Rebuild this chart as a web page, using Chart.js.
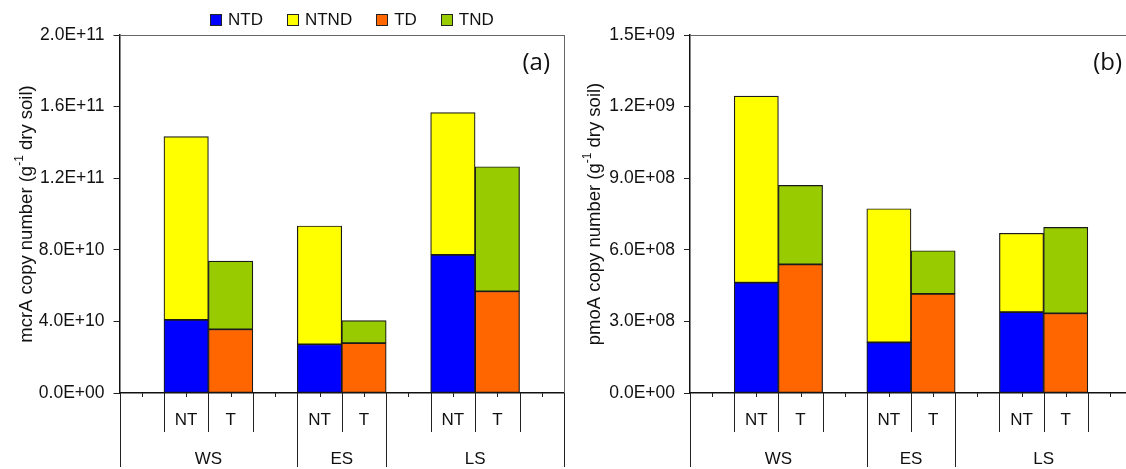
<!DOCTYPE html>
<html>
<head>
<meta charset="utf-8">
<script src="https://cdn.jsdelivr.net/npm/chart.js@4.4.1/dist/chart.umd.min.js"></script>
<style>
  html, body { margin: 0; padding: 0; background: #fff; }
  body { width: 1126px; height: 469px; overflow: hidden; position: relative; font-family: 'Liberation Sans', Arial, sans-serif; }
  #chartA { position: absolute; left: 0; top: 0; }
  #chartB { position: absolute; left: 560px; top: 0; }
  #legend { position: absolute; left: 210px; top: 10px; display: flex; align-items: center; font-size: 17px; line-height: 20px; color: #111; }
  .item { display: flex; align-items: center; margin-right: 24px; }
  .swatch { width: 10px; height: 10px; border: 1px solid #222; margin-right: 6px; }
</style>
</head>
<body>
<canvas id="chartA" width="566" height="469"></canvas>
<canvas id="chartB" width="574" height="469"></canvas>
<div id="legend"></div>
<script>
// x slots: blank slots pad the groups like the original multi-level axis
const slotLabels = ['', 'NT', 'T', '', 'NT', 'T', '', 'NT', 'T', ''];
const groups = ['WS', 'ES', 'LS'];
const groupFirstSlot = [0, 4, 6];
const groupLastSlot = [3, 5, 9];
const ntSlot = [1, 4, 7];
const tSlot = [2, 5, 8];

const seriesNames = ['NTD', 'NTND', 'TD', 'TND'];
const seriesColors = ['#0000ff', '#ffff00', '#ff6600', '#99cc00'];

// (a) mcrA, per group WS, ES, LS
const mcrA_NTD  = [4.08e10, 2.72e10, 7.71e10];
const mcrA_NTND = [1.024e11, 6.61e10, 7.95e10];
const mcrA_TD   = [3.56e10, 2.78e10, 5.68e10];
const mcrA_TND  = [3.81e10, 1.26e10, 6.96e10];
const mcrA_max = 2.0e11, mcrA_step = 4.0e10;

// (b) pmoA
const pmoA_NTD  = [4.62e8, 2.12e8, 3.39e8];
const pmoA_NTND = [7.82e8, 5.60e8, 3.30e8];
const pmoA_TD   = [5.39e8, 4.15e8, 3.34e8];
const pmoA_TND  = [3.31e8, 1.81e8, 3.60e8];
const pmoA_max = 1.5e9, pmoA_step = 3.0e8;

Chart.defaults.font.family = "'Liberation Sans', Arial, sans-serif";
Chart.defaults.font.size = 17;
Chart.defaults.color = '#111';

function toSlots(values, slots) {
  const out = slotLabels.map(() => null);
  values.forEach((v, i) => { out[slots[i]] = v; });
  return out;
}

function sci(v) {
  if (Math.abs(v) < 1e-6) return '0.0E+00';
  const e = Math.floor(Math.log10(Math.abs(v)) + 1e-9);
  const m = v / Math.pow(10, e);
  return m.toFixed(1) + 'E' + (e < 0 ? '-' : '+') + String(Math.abs(e)).padStart(2, '0');
}

const decor = {
  id: 'decor',
  afterDraw(chart, args, o) {
    const { ctx, chartArea: a, scales: { x } } = chart;
    const line = (x1, y1, x2, y2) => { ctx.beginPath(); ctx.moveTo(x1, y1); ctx.lineTo(x2, y2); ctx.stroke(); };
    const bx = k => Math.round(x.getPixelForValue(k - 0.5)) + 0.5;
    ctx.save();
    ctx.lineWidth = 1;
    // plot frame (top, right)
    ctx.strokeStyle = '#666';
    line(a.left, Math.round(a.top) + 0.5, a.right, Math.round(a.top) + 0.5);
    line(bx(slotLabels.length), a.top, bx(slotLabels.length), a.bottom);
    // small ticks under every slot
    ctx.strokeStyle = '#222';
    slotLabels.forEach((_, i) => {
      const px = Math.round(x.getPixelForValue(i)) + 0.5;
      line(px, a.bottom, px, a.bottom + 4);
    });
    // separators between slots / groups
    for (let k = 0; k <= slotLabels.length; k++) {
      const full = groupFirstSlot.includes(k) || k === slotLabels.length;
      const inner = slotLabels[k] || slotLabels[k - 1];
      if (!full && !inner) continue;
      line(bx(k), a.bottom, bx(k), full ? 467 : 432);
    }
    // group labels
    ctx.fillStyle = '#111';
    ctx.font = "17px 'Liberation Sans', Arial, sans-serif";
    ctx.textAlign = 'center';
    ctx.textBaseline = 'alphabetic';
    groups.forEach((g, i) => {
      const cx = x.getPixelForValue((groupFirstSlot[i] + groupLastSlot[i]) / 2);
      ctx.fillText(g, cx, 464);
    });
    // panel letter
    ctx.font = "24px 'Open Sans', sans-serif";
    ctx.textAlign = 'right';
    ctx.fillText(o.letter, o.letterX, 70);
    // rotated y title with superscript
    ctx.translate(o.titleX, (a.top + a.bottom) / 2);
    ctx.rotate(-Math.PI / 2);
    const big = "18.5px 'Liberation Sans', Arial, sans-serif";
    const small = "12px 'Liberation Sans', Arial, sans-serif";
    ctx.font = big; const w1 = ctx.measureText(o.title[0]).width; const w3 = ctx.measureText(o.title[2]).width;
    ctx.font = small; const w2 = ctx.measureText(o.title[1]).width;
    let tx = -(w1 + w2 + w3) / 2;
    ctx.textAlign = 'left';
    ctx.textBaseline = 'middle';
    ctx.font = big; ctx.fillText(o.title[0], tx, 0); tx += w1;
    ctx.font = small; ctx.fillText(o.title[1], tx, -7); tx += w2;
    ctx.font = big; ctx.fillText(o.title[2], tx, 0);
    ctx.restore();
  }
};

function makeDatasets(ntd, ntnd, td, tnd) {
  const vals = [toSlots(ntd, ntSlot), toSlots(ntnd, ntSlot), toSlots(td, tSlot), toSlots(tnd, tSlot)];
  return seriesNames.map((name, i) => ({
    label: name,
    data: vals[i],
    backgroundColor: seriesColors[i],
    borderColor: '#1a1a1a',
    borderWidth: 1.2,
    borderSkipped: false,
    barPercentage: 1,
    categoryPercentage: 1
  }));
}

function makeOptions(max, step, yWidth, padRight, decorOpts) {
  return {
    responsive: false,
    animation: false,
    layout: { padding: { top: 35, right: padRight, left: 0, bottom: 0 } },
    plugins: { legend: { display: false }, tooltip: { enabled: false }, decor: decorOpts },
    scales: {
      x: {
        stacked: true,
        offset: true,
        grid: { display: false, drawTicks: false },
        border: { display: true, color: '#111', width: 1.5 },
        ticks: { autoSkip: false, maxRotation: 0, minRotation: 0, padding: 17 },
        afterFit: s => { s.height = 76; }
      },
      y: {
        stacked: true,
        min: 0,
        max: max,
        ticks: { stepSize: step, padding: 9, font: { size: 17.5 }, callback: v => sci(v) },
        grid: { drawOnChartArea: false, drawTicks: true, tickLength: 6, color: '#222' },
        border: { display: true, color: '#111', width: 1.5 },
        afterFit: s => { s.width = yWidth; }
      }
    }
  };
}

const chartA = new Chart(document.getElementById('chartA'), {
  type: 'bar',
  data: { labels: slotLabels, datasets: makeDatasets(mcrA_NTD, mcrA_NTND, mcrA_TD, mcrA_TND) },
  options: makeOptions(mcrA_max, mcrA_step, 119.5, 2,
    { letter: '(a)', letterX: 550, titleX: 27, title: ['mcrA copy number (g', '-1', ' dry soil)'] }),
  plugins: [decor]
});

const chartB = new Chart(document.getElementById('chartB'), {
  type: 'bar',
  data: { labels: slotLabels, datasets: makeDatasets(pmoA_NTD, pmoA_NTND, pmoA_TD, pmoA_TND) },
  options: makeOptions(pmoA_max, pmoA_step, 130, 2,
    { letter: '(b)', letterX: 562, titleX: 35, title: ['pmoA copy number (g', '-1', ' dry soil)'] }),
  plugins: [decor]
});

// html legend built from chart (a) datasets
const legend = document.getElementById('legend');
chartA.data.datasets.forEach(ds => {
  const item = document.createElement('div');
  item.className = 'item';
  const sw = document.createElement('span');
  sw.className = 'swatch';
  sw.style.background = ds.backgroundColor;
  const txt = document.createElement('span');
  txt.textContent = ds.label;
  item.appendChild(sw);
  item.appendChild(txt);
  legend.appendChild(item);
});
</script>
</body>
</html>
